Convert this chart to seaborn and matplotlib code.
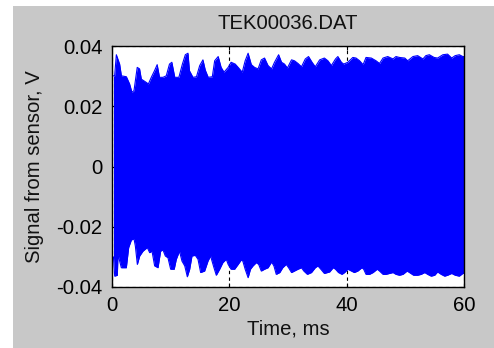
import matplotlib
matplotlib.use("Agg")
import matplotlib.pyplot as plt
import seaborn as sns
from matplotlib.patches import Rectangle

# ---------------- data ----------------
title = "TEK00036.DAT"
x_label = "Time, ms"
y_label = "Signal from sensor, V"
x_ticks = [0, 20, 40, 60]
x_tick_labels = ["0", "20", "40", "60"]
y_ticks = [-0.04, -0.02, 0, 0.02, 0.04]
y_tick_labels = ["-0.04", "-0.02", "0", "0.02", "0.04"]

# upper envelope of the sensor signal (time in ms, volts)
upper_t = [0.25, 0.45, 0.74, 1.3, 1.6, 2.45, 3.0, 3.4, 3.75, 4.3, 4.7, 5.0, 5.85, 6.2,
           6.7, 7.25, 7.7, 8.1, 8.7, 9.25, 9.8, 10.2, 10.7, 11.4, 12.0, 12.5, 12.95,
           13.2, 13.8, 14.4, 14.95, 15.5, 15.9, 16.4, 17.1, 17.5, 18.1, 18.6, 19.1,
           19.8, 20.3, 21.0, 21.5, 22.2, 22.7, 23.2, 23.75, 24.3, 24.9, 25.45, 26.0,
           26.6, 27.2, 27.7, 28.4, 28.9, 29.4, 29.9, 30.6, 31.1, 31.7, 32.3, 32.95,
           33.5, 34.1, 34.65, 35.4, 36.2, 36.8, 37.4, 38.1, 38.5, 39.1, 39.5,
           40.2, 41.05, 41.6, 42.2, 42.8, 43.3, 44.2, 45.0, 45.6, 46.2, 47.0, 47.9,
           48.4, 49.0, 49.9, 50.4, 51.3, 52.1, 53.0, 53.5, 54.1, 54.9, 55.5, 56.4,
           57.2, 57.9, 58.5, 59.2, 59.8, 60.0]
upper_v = [0.0301, 0.0301, 0.0371, 0.0340, 0.0301, 0.0298, 0.0274, 0.0246, 0.0252,
           0.0329, 0.0324, 0.0290, 0.0279, 0.0274, 0.0296, 0.0318, 0.0338, 0.0296,
           0.0296, 0.0301, 0.0340, 0.0346, 0.0296, 0.0296, 0.0340, 0.0371, 0.0376,
           0.0318, 0.0296, 0.0298, 0.0335, 0.0354, 0.0320, 0.0296, 0.0298, 0.0351,
           0.0365, 0.0329, 0.0313,
           0.0329, 0.0346, 0.0340, 0.0329, 0.0313, 0.0351, 0.0376, 0.0338, 0.0329,
           0.0324, 0.0354, 0.0360, 0.0335, 0.0324, 0.0346, 0.0371, 0.0346, 0.0340,
           0.0327, 0.0354, 0.0351, 0.0342, 0.0331, 0.0357, 0.0365, 0.0346, 0.0331,
           0.0354, 0.0360, 0.0351, 0.0335, 0.0357, 0.0365, 0.0346, 0.0340,
           0.0346, 0.0362, 0.0360, 0.0351, 0.0338, 0.0362, 0.0360, 0.0351, 0.0342,
           0.0360, 0.0365, 0.0357, 0.0365, 0.0362, 0.0360, 0.0351, 0.0365, 0.0368,
           0.0357, 0.0368, 0.0371, 0.0362, 0.0360, 0.0371, 0.0373, 0.0360, 0.0368,
           0.0371, 0.0365, 0.0365]

# lower envelope of the sensor signal
lower_t = [0.25, 0.46, 0.91, 1.02, 1.59, 2.44, 2.84, 3.3, 3.75, 3.98, 4.32, 4.72, 5.28,
           6.02, 6.42, 6.82, 7.27, 7.84, 8.29, 8.69, 9.09, 9.54, 10.0, 10.6, 10.96,
           11.5, 11.93, 12.4, 12.84, 13.24, 13.63, 14.2, 14.66, 15.11, 15.79, 16.36,
           16.8, 17.38, 17.78, 18.35, 18.9, 19.48,
           19.8, 20.3, 20.9, 21.5, 22.04, 22.3, 22.7, 23.2, 23.6, 24.03, 24.6, 25.0,
           25.45, 26.0, 26.6, 27.2, 27.6, 28.0, 28.6, 29.1, 29.7, 30.1, 30.6, 31.1,
           31.7, 32.3, 32.7, 33.3, 34.0, 34.65, 35.1, 35.6, 36.2, 37.1, 37.7, 38.1,
           38.6, 39.2, 39.65,
           40.2, 40.8, 41.3, 41.9, 42.6, 42.9, 43.3, 43.9, 44.5, 45.2, 45.6, 46.2,
           46.7, 47.3, 47.9, 48.4, 49.0, 49.6, 50.3, 50.7, 51.4, 52.1, 52.7, 53.3,
           53.8, 54.4, 55.0, 55.5, 56.1, 56.7, 57.2, 57.9, 58.5, 59.2, 59.8, 60.0]
lower_v = [-0.0300, -0.0364, -0.0361, -0.0292, -0.0336, -0.0336, -0.0269, -0.0244,
           -0.0240, -0.0264, -0.0325, -0.0297, -0.0281, -0.0269, -0.0286, -0.0281,
           -0.0330, -0.0336, -0.0281, -0.0277, -0.0297, -0.0303, -0.0341, -0.0341,
           -0.0308, -0.0281, -0.0314, -0.0330, -0.0366, -0.0341, -0.0297, -0.0295,
           -0.0308, -0.0352, -0.0347, -0.0314, -0.0297, -0.0336, -0.0361, -0.0341,
           -0.0319, -0.0308,
           -0.0325, -0.0341, -0.0341, -0.0325, -0.0310, -0.0314, -0.0341, -0.0369,
           -0.0341, -0.0330, -0.0319, -0.0325, -0.0347, -0.0341, -0.0336, -0.0317,
           -0.0330, -0.0358, -0.0352, -0.0336, -0.0325, -0.0336, -0.0352, -0.0347,
           -0.0341, -0.0336, -0.0347, -0.0358, -0.0352, -0.0336, -0.0330, -0.0341,
           -0.0355, -0.0350, -0.0336, -0.0341, -0.0352, -0.0358, -0.0352,
           -0.0341, -0.0347, -0.0352, -0.0347, -0.0336, -0.0341, -0.0358, -0.0358,
           -0.0352, -0.0341, -0.0347, -0.0358, -0.0358, -0.0355, -0.0352, -0.0358,
           -0.0361, -0.0358, -0.0347, -0.0352, -0.0361, -0.0361, -0.0358, -0.0352,
           -0.0358, -0.0364, -0.0361, -0.0350, -0.0358, -0.0364, -0.0361, -0.0355,
           -0.0361, -0.0364, -0.0355, -0.0355]

# ---------------- style ----------------
sns.set_style("ticks")
plt.rcParams["font.family"] = ["Liberation Sans", "DejaVu Sans"]
FS = 14.6
W, H = 494, 348
bg = "#c8c8c8"
blue = "#0000ff"

fig = plt.figure(figsize=(W / 100, H / 100), dpi=100, facecolor=bg)
# white screenshot margins (left and top)
fig.patches.append(Rectangle((0, 0), 13 / W, 1, transform=fig.transFigure,
                             facecolor="white", edgecolor="none", zorder=0))
fig.patches.append(Rectangle((0, 1 - 6 / H), 1, 6 / H, transform=fig.transFigure,
                             facecolor="white", edgecolor="none", zorder=0))

ax = fig.add_axes([112 / W, 1 - 287 / H, (464 - 112) / W, (287 - 46) / H])
ax.set_facecolor("white")

# grid behind the signal
ax.set_axisbelow(True)
ax.grid(True, color="black", linestyle=(0, (3, 3)), linewidth=0.8, zorder=0)

ax.fill_between(upper_t, upper_v, 0, color=blue, linewidth=0, zorder=2)
ax.fill_between(lower_t, lower_v, 0, color=blue, linewidth=0, zorder=2)
sns.lineplot(x=upper_t, y=upper_v, ax=ax, color=blue, linewidth=0.8, sort=False,
             estimator=None, zorder=3)
sns.lineplot(x=lower_t, y=lower_v, ax=ax, color=blue, linewidth=0.8, sort=False,
             estimator=None, zorder=3)

ax.set_xlim(0, 60)
ax.set_ylim(-0.04, 0.04)
ax.set_xticks(x_ticks)
ax.set_xticklabels(x_tick_labels)
ax.set_yticks(y_ticks)
ax.set_yticklabels(y_tick_labels)
ax.tick_params(direction="in", length=3, width=0.8, colors="black",
               labelsize=FS, top=True, right=True)
ax.tick_params(axis="x", pad=6.5)
ax.tick_params(axis="y", pad=7)
for s in ax.spines.values():
    s.set_visible(True)
    s.set_color("black")
    s.set_linewidth(1.0)
    s.set_zorder(5)

ax.set_title(title, fontsize=FS, pad=12.2, color="#111111")
ax.set_xlabel(x_label, fontsize=FS, labelpad=3.5, color="#111111")
ax.set_ylabel(y_label, fontsize=FS, labelpad=9, color="#111111")

fig.savefig("out.png", dpi=100, facecolor=bg)
